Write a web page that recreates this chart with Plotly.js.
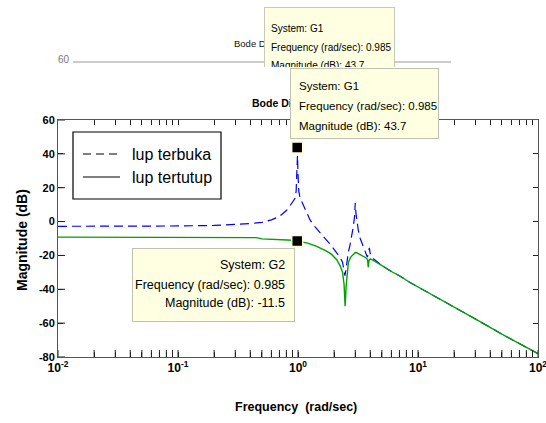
<!DOCTYPE html>
<html>
<head>
<meta charset="utf-8">
<script src="https://cdn.plot.ly/plotly-3.0.1.min.js"></script>
<style>html,body{margin:0;padding:0;background:#fff;}#chart{width:546px;height:423px;}</style>
</head>
<body>
<div id="chart"></div>
<script>
// ---- data ----
const freqOpen = [0.01,0.02,0.05,0.1,0.2,0.3,0.4,0.5,0.6,0.7,0.8,0.85,0.9,0.94,0.965,0.978,0.99,1.0,1.015,1.04,1.07,1.15,1.26,1.4,1.53,1.7,1.91,2.1,2.24,2.35,2.42,2.46,2.5,2.56,2.63,2.71,2.8,2.89,2.96,3.0,3.04,3.1,3.18,3.3,3.5,3.65,3.78,3.86,3.93,4.0,4.1,4.24,4.6,5.14,6,7,8.58,10,15,20,30,50,70,100];
const magOpen  = [-2.8,-2.8,-2.7,-2.6,-2.3,-1.8,-1.2,-0.5,1,3,6.5,9,11.5,13.5,18,28,39,28,18,14,12,7,1,-3.5,-6.5,-10,-14.5,-18.5,-21,-24,-28,-32,-29,-22,-18,-14,-9,-3,3,11,5,-1,-5,-10,-14.5,-18,-21,-19,-15.5,-19,-21,-22,-24,-26.5,-29.5,-32,-36,-38.6,-45.5,-50.5,-57.5,-66.5,-72,-78];
const freqClosed = [0.01,0.02,0.05,0.1,0.2,0.3,0.45,0.5,0.7,0.9,0.985,1.1,1.2,1.4,1.53,1.7,1.91,2.1,2.24,2.35,2.42,2.47,2.52,2.58,2.63,2.75,2.89,3.0,3.08,3.25,3.5,3.7,3.8,3.85,3.9,4.0,4.24,4.6,5.14,6,7,8.58,10,15,20,30,50,70,100];
const magClosed  = [-9.2,-9.2,-9.2,-9.2,-9.2,-9.3,-9.5,-10.2,-10.5,-11,-11.5,-12,-12.7,-14.3,-15.5,-17.2,-19.4,-22.5,-26,-30,-37,-50,-38,-28,-24,-21,-19.4,-18.3,-18.4,-19.3,-20.4,-21.5,-22.5,-27,-23,-22,-23,-24.3,-26.5,-29.5,-32,-36,-38.6,-45.5,-50.5,-57.5,-66.5,-72,-78];
const tipFreq = [0.985, 0.985];
const tipMag  = [43.7, -11.5];
const seriesNames = ['lup terbuka', 'lup tertutup'];
const xTickVals = [0.01, 0.1, 1, 10, 100];
const xTickText = ['10<sup>-2</sup>','10<sup>-1</sup>','10<sup>0</sup>','10<sup>1</sup>','10<sup>2</sup>'];
const xMinorSteps = [2,3,4,5,6,7,8,9];
const yTickVals = [-80,-60,-40,-20,0,20,40,60];
const yTickText = ['-80','-60','-40','-20','0','20','40','60'];
const tipG1 = ['System: G1','Frequency (rad/sec): 0.985','Magnitude (dB): 43.7'];
const tipG2 = ['System: G2','Frequency (rad/sec): 0.985','Magnitude (dB): -11.5'];
const titleText = 'Bode Diagram';
const xTitle = 'Frequency  (rad/sec)';
const yTitle = 'Magnitude (dB)';

// ---- layout helpers (pixel -> paper) ----
const W = 546, H = 423, L = 58, R = 538, T = 120, B = 357;
const px = x => (x - L) / (R - L);
const py = y => (B - y) / (B - T);
const SANS = '"Liberation Sans", Arial, sans-serif';

// major + minor tick positions (labels only on decades)
const allTickVals = [], allTickText = [];
xTickVals.forEach((v, i) => {
  allTickVals.push(v); allTickText.push(xTickText[i]);
  if (i < xTickVals.length - 1) xMinorSteps.forEach(m => { allTickVals.push(v * m); allTickText.push(''); });
});
const xRange = [-2.00001, 2.00001], yRange = [-80, 60];

const traces = [
  {x: freqOpen, y: magOpen, type: 'scatter', mode: 'lines', name: seriesNames[0],
   line: {color: '#0000ff', width: 1.2, dash: '9px,5px'}, showlegend: false, hoverinfo: 'skip'},
  {x: freqClosed, y: magClosed, type: 'scatter', mode: 'lines', name: seriesNames[1],
   line: {color: '#00a000', width: 1.4}, showlegend: false, hoverinfo: 'skip'},
  {x: tipFreq, y: tipMag, type: 'scatter', mode: 'markers',
   marker: {symbol: 'square', size: 11, color: '#000', line: {color: '#ffffd0', width: 1.5}},
   showlegend: false, hoverinfo: 'skip'},
  // inside tick marks on the bottom and left edges (clipped to the plot area)
  {x: allTickVals, y: allTickVals.map(() => yRange[0]), type: 'scatter', mode: 'markers', cliponaxis: true,
   marker: {symbol: 'line-ns', size: 10, line: {color: '#222', width: 1}}, showlegend: false, hoverinfo: 'skip'},
  {x: yTickVals.map(() => xTickVals[0]), y: yTickVals, type: 'scatter', mode: 'markers', cliponaxis: true,
   marker: {symbol: 'line-ew', size: 10, line: {color: '#222', width: 1}}, showlegend: false, hoverinfo: 'skip'},
  // invisible carrier so the mirrored tick axes are drawn
  {x: tipFreq, y: tipMag, xaxis: 'x2', yaxis: 'y2', type: 'scatter', mode: 'markers',
   marker: {opacity: 0}, showlegend: false, hoverinfo: 'skip'}
];

function box(x0, y0, x1, y1, bg, border) {
  return {xref: 'paper', yref: 'paper', x: px(x0), y: py(y0), xanchor: 'left', yanchor: 'top',
    text: ' ', showarrow: false, width: x1 - x0, height: y1 - y0, borderpad: 0,
    bgcolor: bg, bordercolor: border || bg, borderwidth: border ? 1 : 0};
}
function txt(s, x, y, opts) {
  return Object.assign({xref: 'paper', yref: 'paper', x: px(x), y: py(y), text: s, showarrow: false,
    xanchor: 'left', yanchor: 'middle', font: {family: SANS, size: 12, color: '#000'}}, opts || {});
}
const f = (size, extra) => Object.assign({family: SANS, size: size, color: '#000'}, extra || {});

const annotations = [
  // partially hidden figure behind (top)
  txt('60', 64, 60, {xanchor: 'center', font: f(10, {color: '#777'})}),
  txt(titleText, 232, 43, {font: f(9.5, {color: '#111'})}),
  box(264, 7, 393, 80, '#ffffe1', '#c8c8b8'),
  txt(tipG1[0], 269, 28, {font: f(10)}),
  txt(tipG1[1], 269, 47, {font: f(10)}),
  txt(tipG1[2], 269, 66, {font: f(10)}),
  box(235, 67, 470, 100, '#ffffff'),
  // main figure
  txt(titleText, 250, 103, {font: f(10.5, {weight: 'bold'})}),
  box(290, 68, 437, 137, '#ffffe1', '#c0c0b0'),
  txt(tipG1[0], 297, 86, {font: f(11.5)}),
  txt(tipG1[1], 297, 106, {font: f(11.5)}),
  txt(tipG1[2], 297, 126, {font: f(11.5)}),
  box(132, 248, 293, 320, '#ffffe1', '#c0c0b0'),
  txt(tipG2[0], 287, 265, {xanchor: 'right', font: f(12.5)}),
  txt(tipG2[1], 287, 285, {xanchor: 'right', font: f(12.5)}),
  txt(tipG2[2], 287, 303, {xanchor: 'right', font: f(12.5)}),
  // legend labels
  txt(seriesNames[0], 130, 154, {font: f(16)}),
  txt(seriesNames[1], 130, 177, {font: f(16)}),
  // axis titles
  txt(xTitle, 296, 407, {xanchor: 'center', font: f(12.5, {weight: 'bold'})}),
  txt(yTitle, 22, 240, {xanchor: 'center', textangle: -90, font: f(14, {weight: 'bold'})})
];

const shapes = [
  {type: 'line', xref: 'paper', yref: 'paper', x0: px(73), x1: px(451), y0: py(62), y1: py(62),
   line: {color: '#999', width: 1}},
  {type: 'rect', xref: 'paper', yref: 'paper', x0: px(73), x1: px(221), y0: py(132), y1: py(199),
   line: {color: '#000', width: 1.2}, fillcolor: '#fff', layer: 'above'},
  {type: 'line', xref: 'paper', yref: 'paper', x0: px(83), x1: px(120), y0: py(154), y1: py(154),
   line: {color: '#000', width: 1.2, dash: '8px,5px'}},
  {type: 'line', xref: 'paper', yref: 'paper', x0: px(83), x1: px(120), y0: py(177), y1: py(177),
   line: {color: '#000', width: 1.2}}
];

const tickStyle = {ticks: 'inside', ticklen: 5, tickwidth: 1, tickcolor: '#222', showline: true,
  linecolor: '#555', linewidth: 1, mirror: 'allticks', showgrid: false, zeroline: false};

const layout = {
  width: W, height: H,
  margin: {l: L, r: W - R, t: T, b: H - B},
  paper_bgcolor: '#fff', plot_bgcolor: '#fff',
  showlegend: false,
  xaxis: Object.assign({type: 'log', range: xRange, tickmode: 'array', tickvals: allTickVals, ticktext: allTickText,
    ticklabeloverflow: 'allow', tickfont: f(12, {weight: 'bold'})}, tickStyle),
  yaxis: Object.assign({range: yRange, tickmode: 'array', tickvals: yTickVals, ticktext: yTickText,
    tickfont: f(11, {weight: 'bold'})}, tickStyle),
  xaxis2: Object.assign({type: 'log', range: xRange, tickmode: 'array', tickvals: allTickVals,
    overlaying: 'x', side: 'top', anchor: 'y2', showticklabels: false}, tickStyle),
  yaxis2: Object.assign({range: yRange, tickmode: 'array', tickvals: yTickVals,
    overlaying: 'y', side: 'right', anchor: 'x2', showticklabels: false}, tickStyle),
  annotations: annotations,
  shapes: shapes
};

Plotly.newPlot('chart', traces, layout, {staticPlot: true, displayModeBar: false});
</script>
</body>
</html>
